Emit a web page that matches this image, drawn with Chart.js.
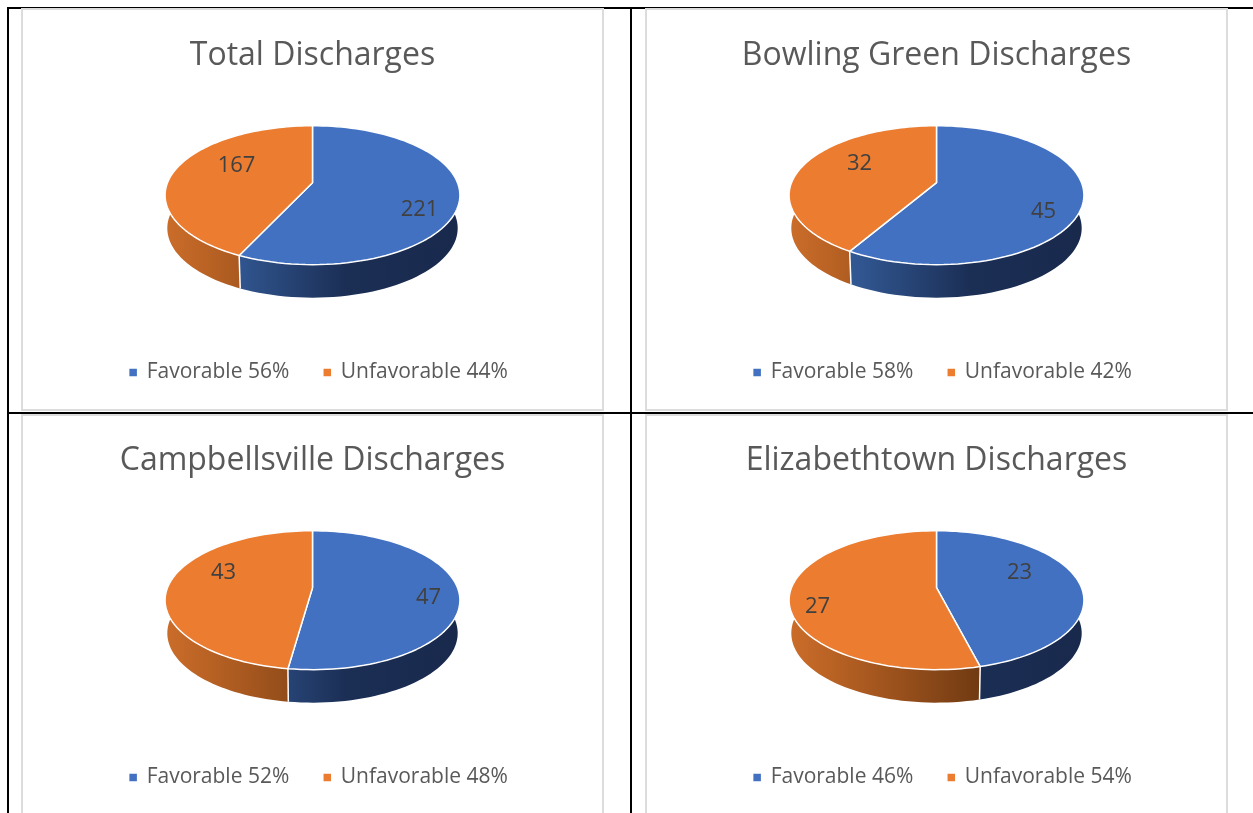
<!DOCTYPE html>
<html>
<head>
<meta charset="utf-8">
<title>Discharges</title>
<script src="https://cdn.jsdelivr.net/npm/chart.js@4"></script>
<style>
    html, body { margin: 0; padding: 0; background: #fff; width: 1253px; height: 813px; overflow: hidden; }
    .rule { position: absolute; background: #000; }
    .frame { position: absolute; box-sizing: border-box; border: 2px solid #dcdcdc; width: 583px; height: 403px; }
    .slot { position: absolute; width: 581px; height: 402px; }
</style>
</head>
<body>
<div class="rule" style="left:7px;top:7px;width:1246px;height:2px"></div>
<div class="rule" style="left:7px;top:7px;width:2px;height:806px"></div>
<div class="rule" style="left:630px;top:7px;width:2px;height:806px"></div>
<div class="rule" style="left:7px;top:412px;width:1246px;height:2px"></div>
<script>
const titles = ['Total Discharges', 'Bowling Green Discharges', 'Campbellsville Discharges', 'Elizabethtown Discharges'];
const favorable = [221, 45, 47, 23];
const unfavorable = [167, 32, 43, 27];
const favorablePct = [56, 58, 52, 46];
const unfavorablePct = [44, 42, 48, 54];

const sliceColors = ['#4371c1', '#eb7c30'];
const textColor = '#595959';
const fontName = '"Open Sans", "Noto Sans", sans-serif';

// where each chart sits on the page
const chartLeft = [22, 646, 22, 646];
const chartTop = [8, 8, 413, 413];
// data label offset from the middle of the ellipse, Excel nudges these by hand
const labelNudge = [
    [[107, 13], [-76, -31]],
    [[107, 15], [-77, -33]],
    [[116, -4], [-89, -29]],
    [[83, -29], [-119, 5]]
];

// perspective of the tilted disc
const tiltK = 0.18;
const tiltA = 67.2;
const tiltB = 145;
const wallDepth = 33;
const pieLift = -18.5;
const ellipseDrop = 14.5;
const legendShift = 6.5;

function rimPoint(cx, cy, angle, squeeze, drop) {
    const u = Math.cos(angle);
    const v = Math.sin(angle);
    const w = 1 - tiltK * v;
    return [cx + tiltB * squeeze * u / w, cy + tiltA * v / w + drop];
}

function wallGradient(ctx, cx, index) {
    const g = ctx.createLinearGradient(cx - 147, 0, cx + 147, 0);
    if (index === 0) {
        g.addColorStop(0, '#3a66ae');
        g.addColorStop(0.25, '#30558f');
        g.addColorStop(0.62, '#1b2e54');
        g.addColorStop(1, '#18294c');
    } else {
        g.addColorStop(0, '#cb6d2a');
        g.addColorStop(0.25, '#ab5a20');
        g.addColorStop(0.65, '#703a12');
        g.addColorStop(1, '#5f310f');
    }
    return g;
}

const tiltedPie = {
    id: 'tiltedPie',
    afterLayout(chart) {
        // the legend sits a bit right of centre in the reference
        chart.legend.left += legendShift;
        chart.legend.right += legendShift;
    },
    beforeDatasetDraw(chart, args) {
        const ctx = chart.ctx;
        const arcs = args.meta.data;
        const cx = arcs[0].x;
        const cy = arcs[0].y + pieLift;
        const steps = 90;

        ctx.save();
        ctx.lineJoin = 'round';

        // side wall first, the top covers its far half
        arcs.forEach((arc, i) => {
            ctx.beginPath();
            for (let s = 0; s <= steps; s++) {
                const a = arc.startAngle + (arc.endAngle - arc.startAngle) * s / steps;
                const p = rimPoint(cx, cy, a, 1, 0);
                if (s === 0) ctx.moveTo(p[0], p[1]); else ctx.lineTo(p[0], p[1]);
            }
            for (let s = steps; s >= 0; s--) {
                const a = arc.startAngle + (arc.endAngle - arc.startAngle) * s / steps;
                const p = rimPoint(cx, cy, a, 0.985, wallDepth);
                ctx.lineTo(p[0], p[1]);
            }
            ctx.closePath();
            ctx.fillStyle = wallGradient(ctx, cx, i);
            ctx.fill();
        });

        // white seam down the wall between the slices
        arcs.forEach(arc => {
            const a = arc.startAngle;
            if (Math.sin(a) <= 0) return;
            const p = rimPoint(cx, cy, a, 1, 0);
            const q = rimPoint(cx, cy, a, 0.985, wallDepth);
            ctx.beginPath();
            ctx.moveTo(p[0], p[1]);
            ctx.lineTo(q[0], q[1]);
            ctx.strokeStyle = '#ffffff';
            ctx.lineWidth = 1.5;
            ctx.stroke();
        });

        // top of the disc
        arcs.forEach(arc => {
            ctx.beginPath();
            ctx.moveTo(cx, cy);
            for (let s = 0; s <= steps; s++) {
                const a = arc.startAngle + (arc.endAngle - arc.startAngle) * s / steps;
                const p = rimPoint(cx, cy, a, 1, 0);
                ctx.lineTo(p[0], p[1]);
            }
            ctx.closePath();
            ctx.fillStyle = arc.options.backgroundColor;
            ctx.fill();
            ctx.strokeStyle = '#ffffff';
            ctx.lineWidth = 1.5;
            ctx.stroke();
        });

        // data labels
        ctx.font = '22px ' + fontName;
        ctx.fillStyle = '#404040';
        ctx.textAlign = 'center';
        ctx.textBaseline = 'middle';
        const nudge = chart.options.plugins.tiltedPie.nudge;
        arcs.forEach((arc, i) => {
            ctx.fillText(String(chart.data.datasets[0].data[i]), cx + nudge[i][0], cy + ellipseDrop + nudge[i][1]);
        });

        ctx.restore();
        return false;
    }
};

titles.forEach((title, i) => {
    const frame = document.createElement('div');
    frame.className = 'frame';
    frame.style.left = (chartLeft[i] - 1) + 'px';
    frame.style.top = (i < 2 ? 8 : 414) + 'px';
    document.body.appendChild(frame);

    const slot = document.createElement('div');
    slot.className = 'slot';
    slot.style.left = chartLeft[i] + 'px';
    slot.style.top = chartTop[i] + 'px';
    const canvas = document.createElement('canvas');
    slot.appendChild(canvas);
    document.body.appendChild(slot);

    new Chart(canvas, {
        type: 'pie',
        data: {
            labels: ['Favorable ' + favorablePct[i] + '%', 'Unfavorable ' + unfavorablePct[i] + '%'],
            datasets: [{
                data: [favorable[i], unfavorable[i]],
                backgroundColor: sliceColors,
                borderColor: '#ffffff',
                borderWidth: 1.5
            }]
        },
        plugins: [tiltedPie],
        options: {
            responsive: true,
            maintainAspectRatio: false,
            animation: false,
            layout: { padding: { bottom: 17 } },
            plugins: {
                tooltip: { enabled: false },
                tiltedPie: { nudge: labelNudge[i] },
                title: {
                    display: true,
                    text: title,
                    color: textColor,
                    font: { family: fontName, size: 32, weight: 'normal' },
                    padding: { top: 29, bottom: 0 }
                },
                legend: {
                    position: 'bottom',
                    labels: {
                        color: textColor,
                        usePointStyle: true,
                        pointStyle: 'rect',
                        boxWidth: 6,
                        boxHeight: 9,
                        padding: 35,
                        font: { family: fontName, size: 21 }
                    }
                }
            }
        }
    });
});
</script>
</body>
</html>
